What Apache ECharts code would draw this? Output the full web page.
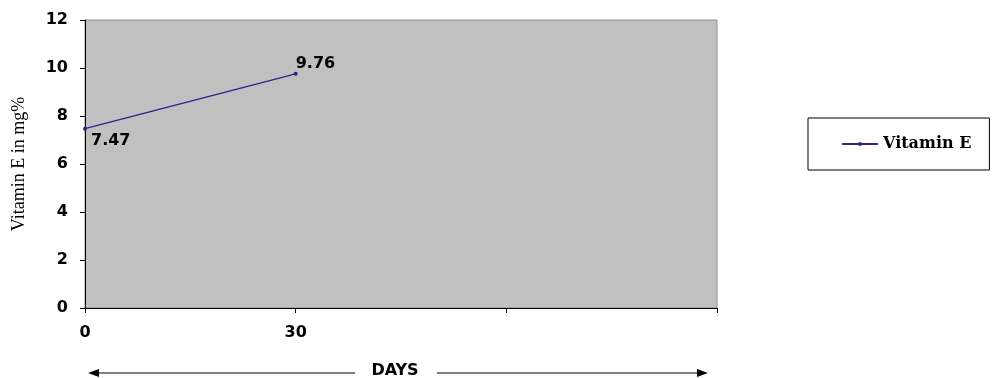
<!DOCTYPE html>
<html>
<head>
<meta charset="utf-8">
<script src="https://cdn.jsdelivr.net/npm/echarts@6/dist/echarts.min.js"></script>
<style>
  html, body { margin: 0; padding: 0; background: #fff; }
  #chart { width: 993px; height: 378px; }
</style>
</head>
<body>
<div id="chart"></div>
<script>
// data
var days = ['0', '30', '', ''];
var vitaminE = [7.47, 9.76];
var yTicks = { min: 0, max: 12, interval: 2 };

// label placement per point (first below-right, second above-right)
var labelOffsets = [[0, 12], [-6, -10]];

var chart = echarts.init(document.getElementById('chart'));

var seriesData = vitaminE.map(function (v, i) {
    return {
        value: v,
        label: { offset: labelOffsets[i] }
    };
});

var sansBold = {
    fontFamily: 'DejaVu Sans, sans-serif',
    fontWeight: 'bold',
    fontSize: 16,
    color: '#000'
};

var option = {
    backgroundColor: '#fff',
    animation: false,
    grid: {
        left: 85, top: 20, right: 276, bottom: 70,
        outerBoundsMode: 'none',
        containLabel: false,
        show: true,
        backgroundColor: '#c0c0c0',
        borderColor: '#8c8c8c',
        borderWidth: 1
    },
    legend: {
        data: ['Vitamin E'],
        left: 808,
        top: 118,
        orient: 'vertical',
        padding: [17, 18, 17, 33],
        borderColor: '#000',
        borderWidth: 1,
        itemWidth: 36,
        itemHeight: 5,
        itemGap: 4,
        textStyle: {
            fontFamily: 'DejaVu Serif, serif',
            fontWeight: 'bold',
            fontSize: 16,
            lineHeight: 18,
            color: '#000'
        }
    },
    xAxis: {
        type: 'category',
        data: days,
        boundaryGap: false,
        name: 'DAYS',
        nameLocation: 'middle',
        nameGap: 55,
        nameTextStyle: Object.assign({ padding: [0, 12, 0, 0] }, sansBold),
        axisLine: { lineStyle: { color: '#000', width: 1 } },
        axisTick: { show: true, length: 5, lineStyle: { color: '#000' } },
        axisLabel: Object.assign({ margin: 17 }, sansBold),
        splitLine: { show: false }
    },
    yAxis: {
        type: 'value',
        min: yTicks.min,
        max: yTicks.max,
        interval: yTicks.interval,
        name: 'Vitamin E in mg%',
        nameLocation: 'middle',
        nameRotate: 90,
        nameGap: 57,
        nameTextStyle: {
            fontFamily: 'Liberation Serif, serif',
            fontSize: 18,
            color: '#000'
        },
        axisLine: { show: true, lineStyle: { color: '#000', width: 1 } },
        axisTick: { show: true, length: 5, lineStyle: { color: '#000' } },
        axisLabel: Object.assign({ margin: 17 }, sansBold),
        splitLine: { show: false }
    },
    series: [
        {
            name: 'Vitamin E',
            type: 'line',
            data: seriesData,
            symbol: 'circle',
            symbolSize: 4,
            lineStyle: { color: '#26268c', width: 1.3 },
            itemStyle: { color: '#26268c' },
            label: Object.assign({ show: true, position: 'right', distance: 4 }, sansBold)
        }
    ],
    graphic: [
        // left arrow line
        { type: 'line', shape: { x1: 96, y1: 373, x2: 355, y2: 373 }, style: { stroke: '#000', lineWidth: 1 } },
        { type: 'polygon', shape: { points: [[88, 373], [99, 369], [99, 377]] }, style: { fill: '#000' } },
        // right arrow line
        { type: 'line', shape: { x1: 437, y1: 373, x2: 700, y2: 373 }, style: { stroke: '#000', lineWidth: 1 } },
        { type: 'polygon', shape: { points: [[708, 373], [697, 369], [697, 377]] }, style: { fill: '#000' } }
    ]
};

chart.setOption(option);
</script>
</body>
</html>
